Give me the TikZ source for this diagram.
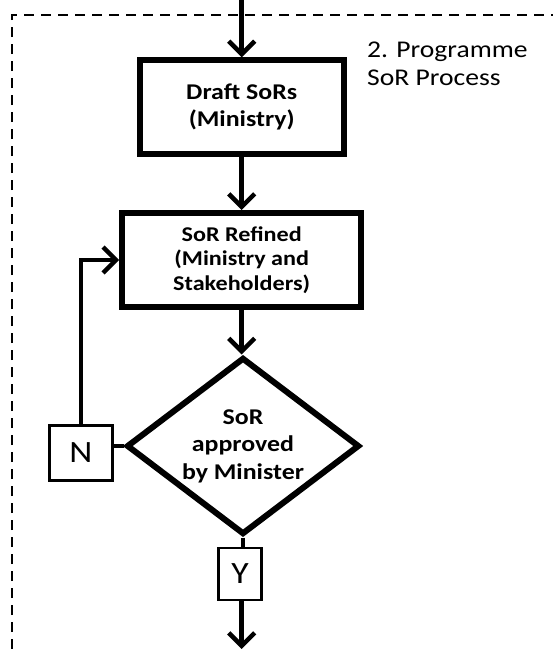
\documentclass[tikz,border=0pt]{standalone}
\usepackage{fontspec}
\setmainfont[FakeStretch=1.15]{Carlito}
\usetikzlibrary{arrows.meta,shapes.geometric}
\begin{document}
\begin{tikzpicture}[x=1pt,y=-1pt,
  stepbox/.style={draw,line width=6pt,align=center,inner sep=0pt},
  answer/.style={draw,line width=2.7pt,font=\fontsize{31}{34}\selectfont,inner sep=0pt},
  flow/.style={line width=4.5pt,-{Straight Barb[length=13pt,width=26pt,line width=4.5pt]}},
  link/.style={line width=4.5pt}]
  \useasboundingbox (0,0) rectangle (553,649);
  \clip (0,0) rectangle (553,649);
  % dashed frame of the process stage
  \draw[line width=2.4pt,dash pattern=on 10pt off 7pt] (12,700) -- (12,15) -- (600,15);
  % stage title (base anchor sits on the last line)
  \node[anchor=base west,align=left,inner sep=0pt,font=\fontsize{24}{27.7}\selectfont] (title) at (367,85) {2. Programme\\SoR Process};
  % process steps
  \node[stepbox,minimum width=204pt,minimum height=93.4pt,font=\bfseries\fontsize{22.5}{26.7}\selectfont] (draft) at (241.7,107) {Draft SoRs\\(Ministry)};
  \node[stepbox,minimum width=239pt,minimum height=94pt,font=\bfseries\fontsize{21}{24.5}\selectfont] (refined) at (241.7,260) {SoR Refined\\(Ministry and\\Stakeholders)};
  \node[draw,diamond,line width=6pt,minimum width=233pt,minimum height=177pt,inner sep=0pt,aspect=1.3,align=center,font=\bfseries\fontsize{22.5}{27.5}\selectfont] (decision) at (243,446) {SoR\\approved\\by Minister};
  \node[answer,minimum width=63pt,minimum height=55pt] (nbox) at (81,453) {N};
  \node[answer,minimum width=43pt,minimum height=52pt] (ybox) at (240,574) {Y};
  \coordinate (in) at (241.7,0);
  \coordinate (out) at (241.7,649);
  % connectors
  \draw[flow] (in) -- (draft.north);
  \draw[flow] (draft.south) -- (refined.north);
  \draw[flow] (refined.south) -- (refined.south |- decision.north);
  \draw[link] (decision.west) -- (decision.west -| nbox.east);
  \draw[flow] (nbox.north) |- (refined.west);
  \draw[link] (decision.south) -- (decision.south |- ybox.north);
  \draw[flow] (ybox.south -| out) -- (out);
\end{tikzpicture}
\end{document}
